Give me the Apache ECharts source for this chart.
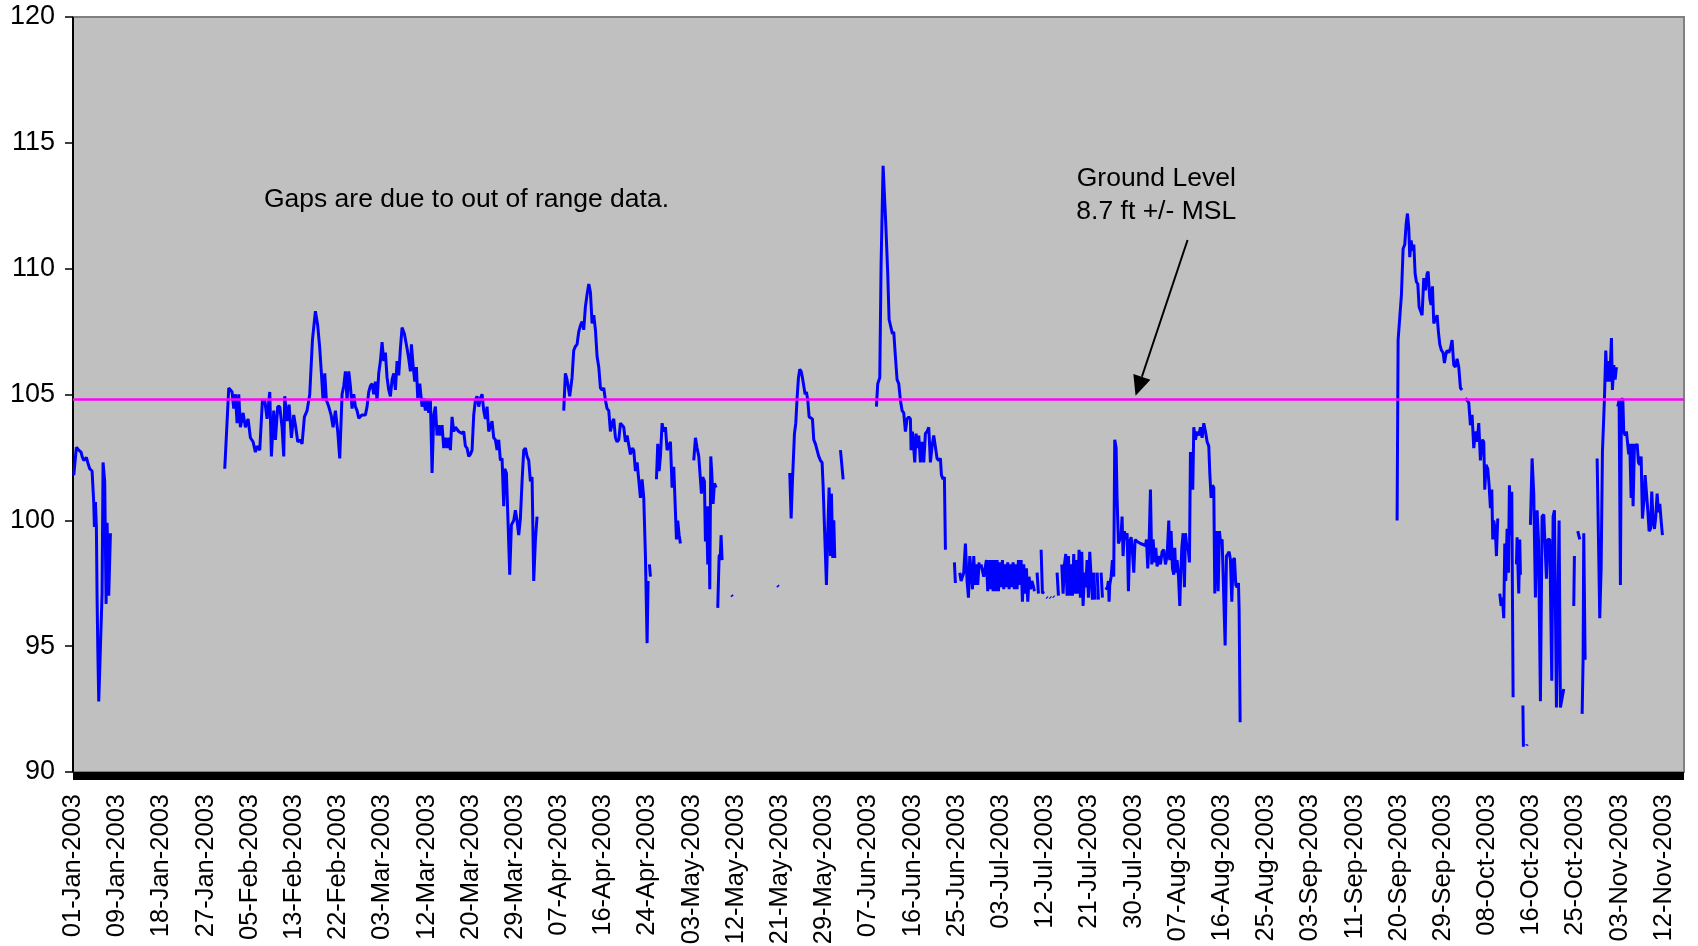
<!DOCTYPE html>
<html>
<head>
<meta charset="utf-8">
<script src="https://cdn.jsdelivr.net/npm/echarts@6/dist/echarts.min.js"></script>
<style>
  html, body { margin: 0; padding: 0; background: #ffffff; }
  #chart { width: 1698px; height: 946px; }
</style>
</head>
<body>
<div id="chart"></div>
<script>
// ---- Data (x = days since 01-Jan-2003, y = water level, ft) ----
const groundLevel = 104.8;
const yTicks = [90, 95, 100, 105, 110, 115, 120];
const tickStepDays = 8.75;
const monthNames = ['Jan','Feb','Mar','Apr','May','Jun','Jul','Aug','Sep','Oct','Nov','Dec'];

const janLevels = [[0.15,101.8],[0.67,102.9],[1.14,102.79],[1.6,102.71],[1.8,102.54],[2.13,102.38],[2.65,102.5],[2.92,102.3],[3.31,102.05],[3.78,101.96],[4.1,100.73],[4.24,99.74],[4.44,100.73],[4.63,99.74],[4.77,96.93],[4.9,95.03],[5.1,92.8],[5.76,97.1],[5.95,102.3],[6.28,101.55],[6.55,96.68],[6.75,99.9],[7.08,97.0],[7.41,99.49]];

const febMarLevels = [[30.05,102.05],[30.84,105.26],[31.5,105.1],[31.83,104.44],[32.16,105.01],[32.49,103.86],[32.82,105.01],[33.15,103.7],[33.68,104.27],[34.14,103.7],[34.67,104.03],[35.13,103.28],[35.66,103.12],[36.12,102.71],[36.45,102.95],[36.98,102.79],[37.51,104.77],[37.97,104.77],[38.43,104.03],[38.96,105.1],[39.29,102.54],[39.75,104.36],[40.08,103.2],[40.54,104.52],[40.94,104.52],[41.4,103.7],[41.73,102.54],[41.93,104.93],[42.39,103.94],[42.79,104.6],[43.25,103.28],[43.71,104.19],[44.11,103.7],[44.5,103.12],[44.9,103.2],[45.36,103.04],[45.82,104.11],[46.35,104.36],[46.88,105.01],[47.41,107.16],[48.0,108.31],[48.46,107.74],[48.86,106.83],[49.19,105.84],[49.52,104.77],[49.85,105.84],[50.18,104.77],[50.64,104.52],[51.1,104.19],[51.5,103.7],[51.96,104.36],[52.42,103.53],[52.82,102.46],
[53.28,105.01],[53.61,105.34],[53.94,105.92],[54.27,104.77],[54.6,105.92],[54.93,105.34],[55.26,104.44],[55.59,105.01],[55.92,104.52],[56.25,104.36],[56.58,104.06],[57.24,104.19],[57.9,104.19],[58.23,104.52],[58.56,105.1],[58.89,105.34],[59.22,105.43],[59.55,105.01],[59.88,105.51],[60.21,104.77],[60.54,105.84],[60.87,106.33],[61.2,107.08],[61.53,106.33],[61.86,106.66],[62.19,105.67],[62.52,105.18],[62.85,104.93],[63.18,105.59],[63.51,105.84],[63.84,105.18],[64.17,106.33],[64.5,105.76],[64.83,106.83],[65.16,107.66],[65.62,107.41],[66.15,106.83],[66.48,106.42],[66.81,105.92],[67.01,106.99],[67.34,106.17],[67.67,105.51],[68.0,106.09],[68.26,104.85],[68.66,105.43],[69.12,104.52],[69.45,104.85],[69.78,104.36],[70.11,104.77],[70.44,104.27],[70.77,104.77],[71.1,101.88],[71.43,104.19],[71.76,104.52],[72.09,103.37],[72.42,103.78],[72.75,103.37],[73.08,103.78],[73.41,102.87],[73.74,103.28],[74.07,102.87],[74.4,103.28],[74.73,102.79],[75.06,104.11],[75.39,103.53],[75.72,103.7],[76.38,103.53],[77.04,103.45],[77.37,103.53],[77.7,102.95],[78.03,102.87],[78.36,102.54],[78.69,102.62],[79.02,102.79],[79.35,104.19],[79.68,104.77],[80.01,104.93],[80.34,104.52],[80.67,104.85],[81.0,105.01],[81.33,104.36],[81.66,104.03],[81.99,104.52],[82.32,103.53],[82.65,103.53],[82.98,103.94],[83.31,103.28],[83.64,103.2],[83.97,102.79],[84.3,103.2],[84.63,102.38],[84.96,102.46],[85.29,100.56],[85.49,102.05],[85.82,101.88],[86.15,99.9],[86.48,97.84],[86.81,99.82],[87.27,99.99],[87.6,100.4],[87.93,99.99],[88.26,99.41],[88.59,100.07],[88.92,101.55],[89.25,102.79],[89.58,102.87],[89.91,102.54],[90.24,102.38],[90.57,101.55],[90.9,101.72],[91.23,97.59],[91.57,99.24],[91.89,100.15]];

const aprLevels = [[97.17,104.36],[97.5,105.84],[97.83,105.59],[98.36,104.93],[98.82,105.67],[99.15,106.75],[99.48,106.91],[99.81,106.99],[100.14,107.49],[100.47,107.74],[100.8,107.9],[101.13,107.57],[101.46,108.48],[101.79,108.97],[102.13,109.39],[102.46,109.06],[102.79,107.82],[103.12,108.15],[103.45,107.57],[103.78,106.5],[104.11,106.09],[104.44,105.26],[104.77,105.18],[105.1,105.26],[105.43,104.77],[105.76,104.44],[106.09,104.36],[106.42,103.53],[106.75,103.86],[107.08,104.03],[107.41,103.28],[107.74,103.12],[108.07,103.2],[108.4,103.86],[108.73,103.78],[109.06,103.7],[109.39,103.12],[109.72,103.37],[110.05,103.37],[110.38,102.62],[110.71,102.87],[111.04,102.79],[111.37,101.96],[111.7,102.3],[112.03,102.3],[112.36,100.89],[112.69,101.63],[113.02,100.89],[113.35,98.58],[113.68,95.12],[113.88,97.59],[113.95,null],[114.14,98.25],[114.34,97.76],[114.6,null],
[115.53,101.63],[115.79,103.04],[116.06,101.96],[116.32,102.54],[116.65,103.86],[116.98,103.53],[117.31,103.7],[117.64,102.79],[117.97,102.79],[118.3,103.12],[118.63,101.3],[118.96,102.13],[119.29,102.13],[119.49,99.24],[119.75,99.99],[120.02,99.41],[120.28,99.08],[120.5,null],
[122.92,102.38],[123.25,103.28],[123.58,102.87],[123.91,102.54],[124.24,102.54],[124.44,101.06],[124.7,101.72],[125.03,101.55],[125.23,99.16],[125.43,100.56],[125.69,98.25],[125.89,100.56],[126.09,97.26],[126.29,102.54],[126.49,101.88],[126.75,100.65],[127.01,101.47],[127.34,101.3],[127.5,null],
[127.67,96.52],[127.94,98.58],[128.2,98.66],[128.33,99.41],[128.53,98.42],[128.7,null],
[130.4,97.03],[130.6,96.98],[130.8,null],[139.5,97.41],[139.7,97.36]];

const mayLevels = [[141.93,101.88],[142.2,100.07],[142.46,101.55],[142.86,103.45],[143.12,103.86],[143.38,104.85],[143.65,105.67],[143.91,106.0],[144.18,105.92],[144.44,105.67],[144.7,105.67],[144.97,105.01],[145.23,105.1],[145.5,104.77],[145.76,104.11],[146.02,104.11],[146.42,104.03],[146.68,103.2],[147.01,103.04],[147.34,103.04],[147.67,102.54],[148.0,102.38],[148.33,102.3],[148.53,101.39],[148.8,99.74],[149.0,99.74],[149.19,97.43],[149.46,99.57],[149.72,101.3],[149.99,98.58],[150.18,101.06],[150.45,98.5],[150.65,100.0],[150.84,98.5],[151.2,null],[151.97,102.79],[152.5,101.63]];

const junLevels = [[159.09,104.52],[159.35,105.43],[159.75,105.67],[160.01,110.13],[160.41,114.09],[160.67,114.09],[160.94,111.78],[161.33,109.8],[161.6,107.98],[161.99,107.98],[162.26,107.41],[162.52,107.49],[162.85,106.5],[163.18,105.59],[163.51,105.43],[163.84,104.77],[164.17,104.36],[164.5,104.27],[164.83,103.53],[165.16,104.03],[165.49,104.11],[165.82,104.03],[165.95,102.79],[166.22,103.53],[166.48,102.87],[166.68,102.3],[166.94,103.45],[167.14,102.87],[167.47,103.37],[167.8,102.3],[168.13,103.12],[168.46,102.3],[168.79,103.45],[169.12,103.53],[169.45,103.7],[169.65,102.87],[169.78,102.3],[170.11,102.95],[170.44,103.37],[170.77,103.37],[171.1,102.46],[171.43,102.38],[171.76,102.46],[171.96,101.8],[172.29,101.63],[172.55,101.72],[172.75,98.83]];

const julAugLevels = [[174.53,98.33],[174.73,97.51],[174.9,null],[175.59,97.92],[175.85,97.59],[176.38,97.92],[176.71,99.08],[177.04,97.59],[177.31,96.93],[177.57,98.58],[177.83,98.0],[178.1,97.26],[178.36,98.58],[178.63,97.43],[178.89,98.25],[179.15,97.43],[179.42,98.33],[179.6,null],
[179.81,98.25],[180.34,97.76],[180.87,98.42],[181.13,97.18],[181.4,98.42],[181.66,97.26],[181.93,98.42],[182.19,97.18],[182.45,98.42],[182.72,97.18],[182.98,98.42],[183.25,97.18],[183.51,98.33],[183.77,97.34],[184.04,98.42],[184.3,97.26],[184.57,98.25],[184.83,97.34],[185.09,98.33],[185.36,97.26],[185.62,98.25],[185.89,97.34],[186.15,98.33],[186.41,97.26],[186.68,98.25],[186.94,97.26],[187.21,98.42],[187.47,97.43],[187.74,98.42],[188.0,96.77],[188.26,98.25],[188.53,97.09],[188.79,98.09],[189.06,96.77],[189.32,97.76],[189.58,97.26],[189.85,97.59],[190.11,97.43],[190.38,97.18],[190.6,null],
[190.9,97.92],[191.17,97.09],[191.4,null],[191.7,98.83],[191.96,97.09],[192.22,97.18],[192.4,null],[192.8,96.95],[192.95,96.92],[193.1,null],[193.47,96.95],[193.62,96.92],[193.8,null],[194.12,96.98],[194.27,96.95],[194.4,null],
[194.86,97.92],[195.13,97.01],[195.5,null],[195.79,98.25],[196.05,97.09],[196.32,98.25],[196.58,98.66],[196.84,97.01],[197.11,98.58],[197.37,97.01],[197.64,98.25],[197.9,97.01],[198.16,98.66],[198.43,97.09],[198.69,98.42],[198.96,97.09],[199.22,98.83],[199.48,96.93],[199.75,98.75],[200.01,96.6],[200.28,97.92],[200.54,97.34],[200.8,98.42],[201.07,96.93],[201.33,98.75],[201.6,97.76],[201.86,96.85],[202.0,null],[202.13,97.92],[202.39,96.85],[202.6,null],[202.79,97.92],[203.05,96.85],[203.3,null],[203.58,97.92],[203.84,96.93],[204.2,null],
[204.5,97.34],[204.77,97.26],[205.03,97.59],[205.16,96.77],[205.29,97.43],[205.56,97.76],[205.82,98.42],[206.08,97.76],[206.28,103.2],[206.55,102.87],[206.74,100.89],[207.01,99.08],[207.27,99.24],[207.54,99.41],[207.73,100.15],[207.93,98.58],[208.2,99.57],[208.46,99.24],[208.73,99.49],[208.99,97.18],[209.25,99.16],[209.52,99.33],[209.78,98.75],[210.05,97.92],[210.31,99.24],[210.71,99.16],[211.37,99.08],[212.36,99.0],[212.56,99.24],[212.82,98.09],[213.09,99.16],[213.35,101.22],[213.61,98.25],[213.88,99.24],[214.14,98.33],[214.41,98.91],[214.67,98.17],[215.0,98.58],[215.33,98.25],[215.66,98.75],[215.99,98.83],[216.32,98.25],[216.65,98.58],[216.98,99.99],[217.18,98.42],[217.44,99.57],[217.71,98.09],[217.97,97.84],[218.17,98.91],[218.37,97.92],[218.63,98.42],[218.9,97.76],[219.16,96.6],[219.29,97.51],[219.56,98.91],[219.82,99.49],[220.08,97.34],[220.28,99.49],[220.61,98.83],[220.81,98.91],[221.07,98.33],[221.27,102.71],[221.47,102.05],[221.73,101.22],[221.93,103.7],[222.26,103.2],[222.59,103.53],[222.92,103.37],[223.25,103.7],[223.58,103.28],[223.91,103.86],[224.24,103.53],[224.57,103.12],[224.9,102.95],[225.1,101.88],[225.36,100.89],[225.63,101.39],[225.89,101.3],[226.09,97.09],[226.29,99.33],[226.55,99.57],[226.75,97.18],[227.01,99.57],[227.21,99.16],[227.54,99.24],[227.87,99.24],[228.14,95.03],[228.4,98.58],[228.66,98.66],[228.93,98.75],[229.19,98.42],[229.46,96.77],[229.72,98.42],[229.98,98.5],[230.25,97.43],[230.51,97.34],[230.78,97.51],[230.91,96.44],[231.11,91.98]];

const sepLevels = [[262.19,99.99],[262.39,107.16],[262.72,107.16],[263.05,108.97],[263.38,110.79],[263.71,110.96],[263.98,111.78],[264.24,112.19],[264.5,111.62],[264.7,110.46],[264.97,111.12],[265.23,110.71],[265.5,110.96],[265.76,109.8],[266.02,109.47],[266.29,109.39],[266.55,108.48],[267.14,108.15],[267.47,109.63],[267.8,109.14],[268.13,109.8],[268.33,109.88],[268.66,108.81],[268.92,108.56],[269.19,109.3],[269.45,107.82],[269.78,107.98],[270.11,108.15],[270.37,107.49],[270.64,106.99],[270.97,106.75],[271.3,106.66],[271.56,106.25],[271.83,106.58],[272.09,106.75],[272.42,106.66],[272.75,106.83],[273.08,107.16],[273.41,106.17],[273.74,106.09],[274.07,106.42],[274.4,106.09],[274.73,105.26],[275.06,105.18],[275.25,null],[275.72,104.85],[276.05,104.77],[276.38,104.68],[276.71,103.78],[277.04,104.19],[277.37,102.87],[277.7,103.53],[278.03,103.12],[278.36,103.86],[278.69,102.38],[279.02,103.2],[279.35,103.12],[279.55,101.22],[279.81,102.21],[280.14,102.05],[280.41,101.39],[280.67,100.48],[280.94,101.22],[281.13,99.24],[281.33,99.99],[281.66,99.57],[281.86,98.58],[282.12,100.07]];

const octNovLevels = [[282.52,97.09],[282.78,96.6],[283.05,96.93],[283.31,96.11],[283.51,99.08],[283.71,97.59],[283.97,99.66],[284.24,97.92],[284.43,101.39],[284.63,99.41],[284.9,101.14],[285.16,92.97],[285.4,null],[285.82,98.25],[285.95,99.33],[286.28,97.09],[286.48,99.24],[286.61,97.84],[286.9,null],[287.1,92.64],[287.2,91.0],[287.5,null],[287.85,91.05],[287.95,91.1],[288.1,null],
[288.59,99.82],[288.92,102.46],[289.25,101.06],[289.58,96.93],[289.91,100.4],[290.18,99.24],[290.57,92.81],[290.9,100.15],[291.23,100.23],[291.76,97.68],[292.02,99.24],[292.42,99.24],[292.82,93.63],[293.08,100.15],[293.35,100.4],[293.74,92.56],[294.27,99.99],[294.53,92.56],[294.86,92.56],[295.19,93.3],[295.5,null],[297.17,96.6],[297.3,98.58],[297.6,null],[297.96,99.57],[298.36,99.24],[298.6,null],[298.83,92.31],[299.02,94.46],[299.15,99.49],[299.42,94.46],[299.8,null],
[301.8,102.46],[302.32,96.11],[302.59,98.09],[302.85,102.71],[303.25,104.85],[303.51,106.75],[303.77,105.51],[304.04,106.33],[304.3,105.51],[304.63,107.24],[304.83,105.18],[305.1,106.17],[305.36,105.59],[305.62,106.09],[305.8,null],[305.89,104.52],[306.15,104.77],[306.41,97.43],[306.61,104.77],[306.88,104.85],[307.07,103.53],[307.34,103.37],[307.6,103.53],[308.06,102.62],[308.26,103.04],[308.53,100.89],[308.66,103.04],[308.92,100.56],[309.19,103.04],[309.45,102.87],[309.72,103.04],[309.98,102.3],[310.24,102.21],[310.51,102.54],[310.77,100.07],[311.04,100.73],[311.3,101.8],[311.56,101.8],[311.83,100.4],[312.09,99.57],[312.36,99.66],[312.62,101.14],[312.89,99.9],[313.15,99.66],[313.41,100.15],[313.68,101.06],[313.94,100.32],[314.21,100.65],[314.47,99.99],[314.73,99.41]];

const periods = [janLevels, febMarLevels, aprLevels, mayLevels, junLevels, julAugLevels, sepLevels, octNovLevels];

// ---- Build series data with gaps between out-of-range periods ----
const seriesData = [];
periods.forEach((p, i) => {
  if (i > 0) {
    const prevEnd = periods[i - 1][periods[i - 1].length - 1][0];
    seriesData.push([(prevEnd + p[0][0]) / 2, '-']);
  }
  p.forEach(pt => seriesData.push([pt[0], pt[1] === null ? '-' : pt[1]]));
});

function dayLabel(v) {
  const d = new Date(Date.UTC(2003, 0, 1) + Math.floor(v + 1e-6) * 86400000);
  const dd = String(d.getUTCDate()).padStart(2, '0');
  return dd + '-' + monthNames[d.getUTCMonth()] + '-' + d.getUTCFullYear();
}

const FONT = 'Liberation Sans, Arial, sans-serif';
const chart = echarts.init(document.getElementById('chart'), null, { renderer: 'canvas' });

const option = {
  animation: false,
  backgroundColor: '#ffffff',
  grid: {
    left: 73, right: 14, top: 17, bottom: 174,
    containLabel: false, outerBoundsMode: 'none',
    show: true, backgroundColor: '#C0C0C0', borderColor: '#808080', borderWidth: 2
  },
  xAxis: {
    type: 'value', min: 0, max: 319, interval: tickStepDays, offset: 4,
    axisLine: { show: true, onZero: false, lineStyle: { color: '#000000', width: 8, cap: 'butt' } },
    axisTick: { show: false },
    splitLine: { show: false },
    axisLabel: {
      rotate: 90, fontSize: 25.5, color: '#000000', fontFamily: FONT, margin: 18,
      showMaxLabel: false, showMinLabel: true,
      formatter: v => dayLabel(v)
    }
  },
  yAxis: {
    type: 'value', min: yTicks[0], max: yTicks[yTicks.length - 1], interval: 5,
    axisLine: { show: true, lineStyle: { color: '#000000', width: 2, cap: 'butt' } },
    axisTick: { show: true, length: 8, lineStyle: { color: '#000000', width: 1.5 } },
    splitLine: { show: false },
    axisLabel: { fontSize: 27, color: '#000000', fontFamily: FONT, margin: 18 }
  },
  series: [{
    type: 'line',
    data: seriesData,
    showSymbol: false,
    symbol: 'none',
    connectNulls: false,
    lineStyle: { color: '#0000FF', width: 3 },
    itemStyle: { color: '#0000FF' },
    markLine: {
      silent: true, symbol: 'none', animation: false,
      label: { show: false },
      lineStyle: { color: '#FF00FF', width: 2.5, type: 'solid' },
      data: [{ yAxis: groundLevel }]
    }
  }]
};
chart.setOption(option);

// ---- Annotations placed by data coordinates ----
const px = (d, v) => chart.convertToPixel({ gridIndex: 0 }, [d, v]);
const gapsPos = px(37.8, 112.75);
const glPos = px(214.5, 112.9);
const tail = px(220.7, 111.14);
const tip = px(210.4, 104.95);
const dx = tip[0] - tail[0], dy = tip[1] - tail[1];
const len = Math.sqrt(dx * dx + dy * dy);
const ux = dx / len, uy = dy / len;
const headLen = 20, headHalf = 9;
const bx = tip[0] - ux * headLen, by = tip[1] - uy * headLen;

chart.setOption({
  graphic: [
    { type: 'text', x: gapsPos[0], y: gapsPos[1], z: 100,
      style: { text: 'Gaps are due to out of range data.', fill: '#000', font: '26.5px ' + FONT,
               textAlign: 'left', textVerticalAlign: 'middle' } },
    { type: 'text', x: glPos[0], y: glPos[1], z: 100,
      style: { text: 'Ground Level\n8.7 ft +/- MSL', fill: '#000', font: '26.5px ' + FONT,
               textAlign: 'center', textVerticalAlign: 'middle', lineHeight: 33 } },
    { type: 'line', z: 100, shape: { x1: tail[0], y1: tail[1], x2: bx, y2: by },
      style: { stroke: '#000', lineWidth: 2 } },
    { type: 'polygon', z: 100,
      shape: { points: [[tip[0], tip[1]], [bx - uy * headHalf, by + ux * headHalf], [bx + uy * headHalf, by - ux * headHalf]] },
      style: { fill: '#000' } }
  ]
});
</script>
</body>
</html>
